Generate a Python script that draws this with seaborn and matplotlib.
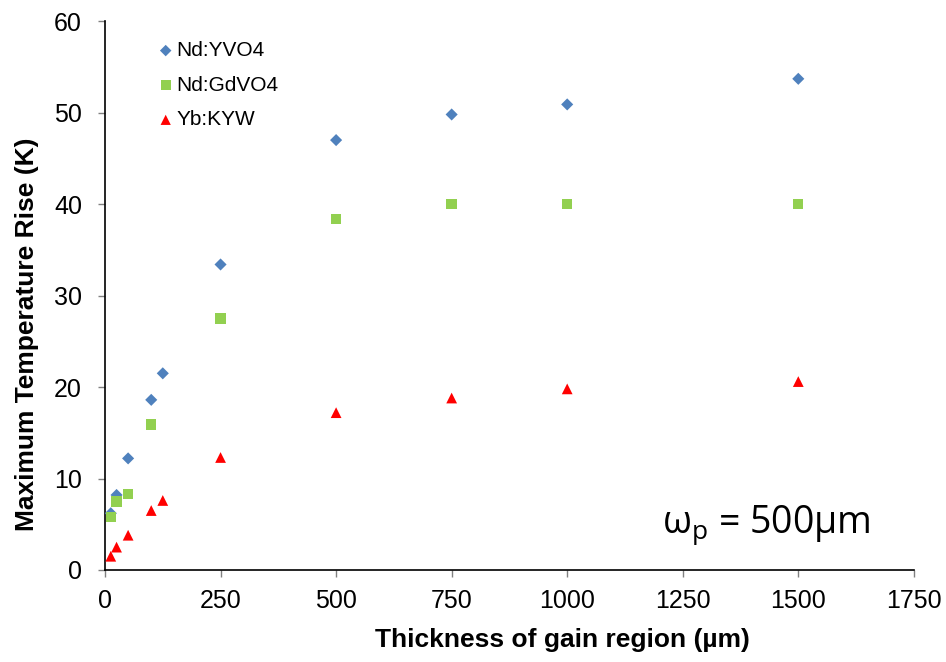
import matplotlib
matplotlib.use("Agg")
import matplotlib.pyplot as plt
import seaborn as sns
import pandas as pd

x_yvo4 = [12.5, 25, 50, 100, 125, 250, 500, 750, 1000, 1500]
y_yvo4 = [6.2, 8.2, 12.2, 18.6, 21.5, 33.4, 47.0, 49.8, 50.9, 53.7]
x_gdvo4 = [12.5, 25, 50, 100, 250, 500, 750, 1000, 1500]
y_gdvo4 = [5.8, 7.5, 8.3, 15.9, 27.5, 38.4, 40.0, 40.0, 40.0]
x_kyw = [12.5, 25, 50, 100, 125, 250, 500, 750, 1000, 1500]
y_kyw = [1.5, 2.5, 3.8, 6.5, 7.6, 12.3, 17.2, 18.8, 19.8, 20.6]

labels = ["Nd:YVO4", "Nd:GdVO4", "Yb:KYW"]
colors = ["#4F81BD", "#92D050", "#FF0000"]
markers = ["D", "s", "^"]
sizes = [38, 55, 60]

sns.set_style("white")
plt.rcParams['font.family'] = ['Liberation Sans', 'DejaVu Sans']
plt.rcParams['text.color'] = 'black'
plt.rcParams['axes.labelcolor'] = 'black'
plt.rcParams['xtick.color'] = 'black'
plt.rcParams['ytick.color'] = 'black'

df = pd.concat([
    pd.DataFrame({"x": x_yvo4, "y": y_yvo4, "s": labels[0]}),
    pd.DataFrame({"x": x_gdvo4, "y": y_gdvo4, "s": labels[1]}),
    pd.DataFrame({"x": x_kyw, "y": y_kyw, "s": labels[2]}),
])

fig = plt.figure(figsize=(9.46, 6.62), dpi=100)
ax = fig.add_axes([0.111, 0.139, 0.855, 0.829])
for lab, c, m, sz in zip(labels, colors, markers, sizes):
    sub = df[df["s"] == lab]
    sns.scatterplot(data=sub, x="x", y="y", color=c, marker=m, s=sz,
                    edgecolor="none", linewidth=0, ax=ax, label=lab, zorder=3)

ax.set_xlim(0, 1750)
ax.set_ylim(0, 60)
ax.set_xticks(range(0, 1751, 250))
ax.set_yticks(range(0, 61, 10))
for sp in ["top", "right"]:
    ax.spines[sp].set_visible(False)
for sp in ["left", "bottom"]:
    ax.spines[sp].set_color("black")
    ax.spines[sp].set_linewidth(1.2)
ax.tick_params(axis="both", direction="out", length=5, width=1, color="#808080",
               labelcolor="black", labelsize=18, left=True, bottom=True)
ax.tick_params(axis="x", pad=9)
ax.tick_params(axis="y", pad=11.5)
ax.set_xlabel("Thickness of gain region (µm)", fontsize=19, fontweight="bold")
ax.set_ylabel("Maximum Temperature Rise (K)", fontsize=19, fontweight="bold")
ax.xaxis.set_label_coords(0.565, -0.106)
ax.yaxis.set_label_coords(-0.082, 0.43)

leg = ax.legend(loc="upper left", bbox_to_anchor=(0.057, 0.979), frameon=False,
                fontsize=15, handletextpad=0.23, handlelength=0.6, labelspacing=0.75,
                borderaxespad=0, markerscale=0.95)

ax.text(1205, 4.1, r"$\mathregular{\omega_p}$ = 500µm", fontsize=27,
        family=["Open Sans", "DejaVu Sans"], color="black")

fig.savefig("out.png", dpi=100)
